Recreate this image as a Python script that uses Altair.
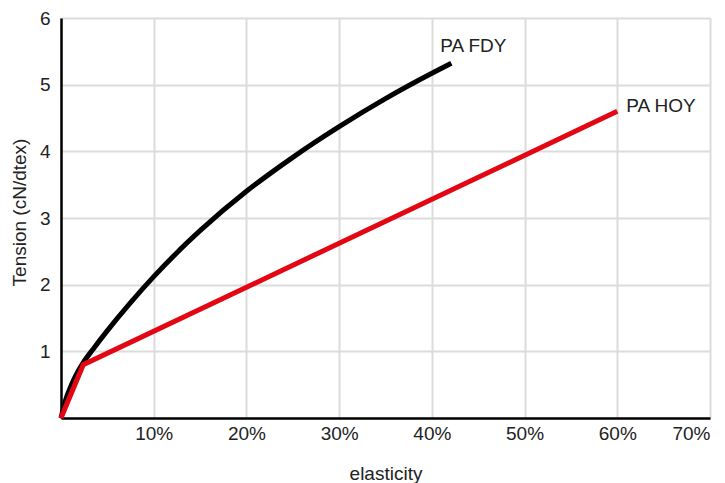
import altair as alt
import pandas as pd

# PA FDY (black curve)
fdy_x = [0, 0.5, 1.2, 2.4, 3.5, 5.0, 7.5, 10.0, 12.5, 15.0, 20.0, 25.0, 30.0, 35.0, 40.0, 42.1]
fdy_y = [0, 0.27, 0.52, 0.83, 1.04, 1.31, 1.73, 2.12, 2.48, 2.81, 3.40, 3.91, 4.37, 4.79, 5.17, 5.32]

# PA HOY (red polyline)
hoy_x = [0, 2.4, 60.0]
hoy_y = [0, 0.80, 4.60]

x_ticks = [0, 10, 20, 30, 40, 50, 60, 70]
y_ticks = [0, 1, 2, 3, 4, 5, 6]

FONT = "Liberation Sans"
TXT = "#222222"
FS = 19

fdy = pd.DataFrame({"x": fdy_x, "y": fdy_y, "series": "PA FDY", "o": range(len(fdy_x))})
hoy = pd.DataFrame({"x": hoy_x, "y": hoy_y, "series": "PA HOY", "o": range(len(hoy_x))})

xs = alt.Scale(domain=[0, 70], nice=False, zero=False)
ys = alt.Scale(domain=[0, 6], nice=False, zero=False)

xax = alt.Axis(
    values=x_ticks, title="elasticity",
    labelExpr="datum.value == 0 ? '' : datum.value + '%'",
    ticks=False, tickSize=0, labelPadding=6, labelFontSize=FS, labelFont=FONT,
    labelColor=TXT, titleFont=FONT, titleFontSize=FS, titleFontWeight="normal",
    titleColor=TXT, titleY=61, titleBaseline="alphabetic",
    domainColor="#000000", domainWidth=2.5,
    grid=True, gridColor="#dcdcdc", gridWidth=2,
)
yax = alt.Axis(
    values=y_ticks, title="Tension (cN/dtex)",
    labelExpr="datum.value == 0 ? '' : '' + datum.value",
    ticks=False, tickSize=0, labelPadding=11, labelFontSize=FS, labelFont=FONT,
    labelColor=TXT, titleFont=FONT, titleFontSize=FS, titleFontWeight="normal",
    titleColor=TXT, titleX=-42, titleY=194, titleAngle=-90,
    titleBaseline="middle", titleAlign="center",
    domainColor="#000000", domainWidth=2.5,
    grid=True, gridColor="#dcdcdc", gridWidth=2,
)

black_line = alt.Chart(fdy).mark_line(
    color="#000000", strokeWidth=5, interpolate="monotone", strokeCap="butt"
).encode(
    x=alt.X("x:Q", scale=xs, axis=xax),
    y=alt.Y("y:Q", scale=ys, axis=yax),
    order="o:O",
)

red_line = alt.Chart(hoy).mark_line(
    color="#e30613", strokeWidth=5, strokeCap="butt", strokeJoin="miter"
).encode(
    x=alt.X("x:Q", scale=xs),
    y=alt.Y("y:Q", scale=ys),
    order="o:O",
)

fdy_lab = alt.Chart(fdy.tail(1)).mark_text(
    align="left", baseline="alphabetic", dx=-11, dy=-11,
    font=FONT, fontSize=FS, color=TXT
).encode(x=alt.X("x:Q", scale=xs), y=alt.Y("y:Q", scale=ys), text="series:N")

hoy_lab = alt.Chart(hoy.tail(1)).mark_text(
    align="left", baseline="alphabetic", dx=9, dy=1,
    font=FONT, fontSize=FS, color=TXT
).encode(x=alt.X("x:Q", scale=xs), y=alt.Y("y:Q", scale=ys), text="series:N")

chart = alt.layer(black_line, red_line, fdy_lab, hoy_lab).properties(
    width=649, height=400,
    autosize=alt.AutoSizeParams(type="none"),
    padding={"left": 61, "top": 18, "right": 15, "bottom": 65},
).configure_view(stroke=None).configure(background="white")

chart.save("out.html", embed_options={"renderer": "svg", "actions": False})
